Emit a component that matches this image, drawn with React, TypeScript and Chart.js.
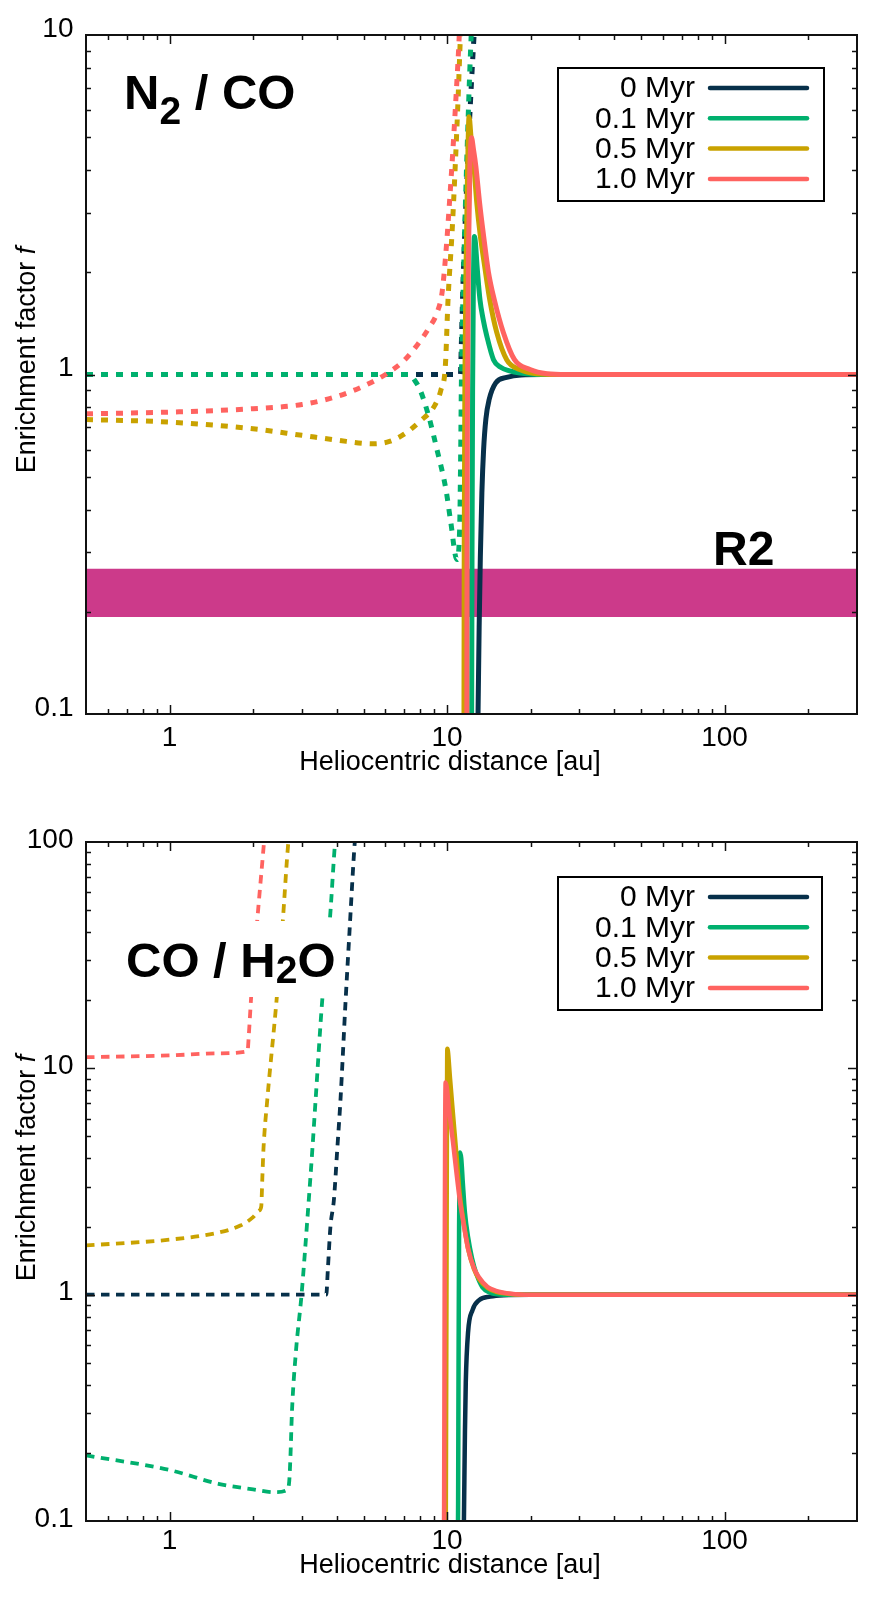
import React, { useEffect, useRef } from 'react';
import { Chart, registerables } from 'chart.js';

Chart.register(...registerables);

const FONT = '"Liberation Sans", Arial, Helvetica, sans-serif';

type Pt = [number, number];

// ---------- shared data ----------
const SERIES_LABELS = ['0 Myr', '0.1 Myr', '0.5 Myr', '1.0 Myr'];
const SERIES_COLORS = ['#07304a', '#00b06e', '#c9a200', '#ff6360'];
const BAND_COLOR = '#cc3a8a';
const X_TITLE = 'Heliocentric distance [au]';
const Y_TITLE = 'Enrichment factor ';
const Y_TITLE_ITALIC = 'f';

const X_TICKS = [0.5, 0.6, 0.7, 0.8, 0.9, 1, 2, 3, 4, 5, 6, 7, 8, 9, 10, 20, 30, 40, 50, 60, 70, 80, 90, 100, 200, 300];
const Y_TICKS_N2CO = [0.1, 0.2, 0.3, 0.4, 0.5, 0.6, 0.7, 0.8, 0.9, 1, 2, 3, 4, 5, 6, 7, 8, 9, 10];
const Y_TICKS_COH2O = [0.1, 0.2, 0.3, 0.4, 0.5, 0.6, 0.7, 0.8, 0.9, 1, 2, 3, 4, 5, 6, 7, 8, 9, 10, 20, 30, 40, 50, 60, 70, 80, 90, 100];

const R2_BAND = [0.193, 0.268];

// ---------- N2 / CO ----------
const N2CO_SOLID_0: Pt[] = [[12.85, 0.07], [12.93, 0.1], [13.05, 0.18], [13.18, 0.29], [13.35, 0.45], [13.54, 0.6], [13.8, 0.74], [14.18, 0.844], [14.98, 0.945], [16.4, 0.98], [18.5, 0.997], [22, 1], [300, 1]];
const N2CO_SOLID_01: Pt[] = [[12.25, 0.07], [12.3, 0.3], [12.36, 0.9], [12.43, 1.7], [12.54, 2.55], [12.65, 2.45], [12.83, 2.08], [13.14, 1.66], [13.5, 1.45], [13.9, 1.3], [14.7, 1.106], [15.6, 1.05], [16.8, 1.025], [18.3, 1.01], [21, 1.0], [300, 1]];
const N2CO_SOLID_05: Pt[] = [[11.5, 0.07], [11.53, 0.3], [11.6, 1.0], [11.7, 2.0], [11.85, 3.9], [12.0, 5.74], [12.2, 5.0], [12.5, 4.1], [12.8, 3.2], [13.14, 2.61], [13.7, 2.05], [14.25, 1.66], [15.1, 1.33], [16.4, 1.106], [18.3, 1.034], [21, 1.005], [25, 1.0], [300, 1]];
const N2CO_SOLID_10: Pt[] = [[11.78, 0.07], [11.8, 0.3], [11.86, 1.0], [11.95, 2.3], [12.08, 4.0], [12.25, 4.98], [12.45, 4.6], [12.7, 4.1], [13.1, 3.2], [13.5, 2.61], [14.1, 2.0], [14.8, 1.66], [15.95, 1.33], [17.5, 1.106], [19.9, 1.034], [22.9, 1.005], [27, 1.0], [300, 1]];

const N2CO_DASH_0: Pt[] = [[0.5, 1], [11.17, 1], [11.25, 1.2], [11.4, 1.8], [11.6, 2.7], [11.8, 3.8], [12.0, 5.2], [12.25, 7.3], [12.55, 10.4], [12.7, 12]];
const N2CO_DASH_01: Pt[] = [[0.5, 1], [7.3, 1], [7.65, 0.96], [8.0, 0.9], [8.6, 0.75], [9.2, 0.6], [9.9, 0.46], [10.3, 0.37], [10.85, 0.285], [11.1, 0.35], [11.2, 0.6], [11.27, 1.0], [11.45, 1.9], [11.65, 3.2], [11.85, 5.0], [12.05, 7.5], [12.25, 10.5], [12.35, 12]];
const N2CO_DASH_05: Pt[] = [[0.5, 0.737], [1, 0.724], [2, 0.692], [3, 0.662], [4, 0.641], [5.4, 0.625], [6.2, 0.635], [7, 0.667], [8, 0.729], [9, 0.807], [9.5, 0.9], [9.86, 1.06], [10.08, 1.66], [10.42, 2.61], [10.7, 4.1], [10.95, 6.4], [11.12, 9.0], [11.25, 11.5]];
const N2CO_DASH_10: Pt[] = [[0.5, 0.766], [1, 0.775], [2, 0.793], [3, 0.816], [4, 0.861], [5, 0.924], [6, 1.0], [7, 1.1], [7.8, 1.22], [8.6, 1.37], [9.2, 1.52], [9.6, 1.75], [9.95, 2.4], [10.2, 3.2], [10.5, 4.6], [10.75, 6.4], [11.0, 9.0], [11.15, 11.5]];

// ---------- CO / H2O ----------
const COH2O_SOLID_0: Pt[] = [[11.45, 0.07], [11.5, 0.1], [11.6, 0.25], [11.68, 0.41], [11.9, 0.68], [12.35, 0.855], [13.05, 0.946], [14.3, 0.98], [16, 0.995], [20, 1], [300, 1]];
const COH2O_SOLID_01: Pt[] = [[10.93, 0.07], [10.96, 0.12], [11.0, 0.5], [11.05, 2.0], [11.1, 3.8], [11.14, 4.25], [11.25, 4.0], [11.4, 3.1], [11.6, 2.3], [11.9, 1.8], [12.3, 1.45], [12.8, 1.22], [13.4, 1.08], [14.3, 1.02], [16, 1.0], [300, 1]];
const COH2O_SOLID_05: Pt[] = [[9.88, 0.07], [9.9, 0.12], [9.95, 1.0], [9.99, 6], [10.02, 12.2], [10.25, 9.0], [10.5, 6.3], [10.8, 4.2], [11.1, 2.8], [11.4, 2.2], [11.9, 1.6], [12.5, 1.3], [13.05, 1.17], [14, 1.07], [15, 1.03], [16.5, 1.01], [19, 1.0], [300, 1]];
const COH2O_SOLID_10: Pt[] = [[9.74, 0.07], [9.76, 0.12], [9.8, 1.0], [9.84, 5.0], [9.88, 8.65], [10.2, 6.3], [10.5, 4.75], [10.8, 3.5], [11.1, 2.65], [11.4, 2.15], [11.9, 1.6], [12.5, 1.31], [13.05, 1.19], [14, 1.08], [15, 1.04], [17, 1.01], [20, 1.0], [300, 1]];

const COH2O_DASH_0: Pt[] = [[0.5, 1], [3.67, 1], [3.72, 1.3], [3.8, 2.0], [3.91, 2.62], [4.02, 4.37], [4.13, 7.26], [4.31, 20], [4.45, 40], [4.65, 100], [4.7, 115]];
const COH2O_DASH_01: Pt[] = [[0.5, 0.195], [1, 0.168], [1.5, 0.146], [2, 0.138], [2.4, 0.134], [2.65, 0.137], [2.7, 0.15], [2.73, 0.2], [2.76, 0.3], [2.85, 0.55], [2.99, 1.0], [3.15, 2.3], [3.27, 4.37], [3.36, 7.26], [3.55, 20], [3.78, 45], [3.95, 100], [4.0, 115]];
const COH2O_DASH_05: Pt[] = [[0.5, 1.65], [1, 1.75], [1.5, 1.88], [1.8, 2.02], [2.0, 2.2], [2.1, 2.35], [2.14, 2.45], [2.16, 3.3], [2.18, 4.4], [2.25, 7.26], [2.43, 20], [2.55, 42], [2.68, 100], [2.72, 115]];
const COH2O_DASH_10: Pt[] = [[0.5, 11.2], [1, 11.4], [1.5, 11.65], [1.91, 11.9], [1.93, 14], [1.97, 21], [2.07, 45], [2.19, 100], [2.21, 115]];

// ---------- helpers ----------
function lineDs(label: string, pts: Pt[], color: string, width: number, dash: number[], order: number) {
  return {
    label,
    data: pts.map(([x, y]) => ({ x, y })),
    borderColor: color,
    backgroundColor: color,
    borderWidth: width,
    borderDash: dash,
    borderCapStyle: 'butt',
    borderJoinStyle: 'round',
    pointRadius: 0,
    pointHoverRadius: 0,
    fill: false,
    cubicInterpolationMode: 'monotone',
    order,
    clip: 0,
  };
}

function isMajor(v: number) {
  const l = Math.log10(v);
  return Math.abs(l - Math.round(l)) < 1e-9;
}

type TitlePart = { text: string; size: number; dy: number };

interface PanelCfg {
  id: string;
  canvasHeight: number;
  padTop: number;
  xAxisHeight: number;
  xLabelPad: number;
  yLabelOffset: number;
  yMin: number;
  yMax: number;
  yTicks: number[];
  titleParts: TitlePart[];
  titleX: number;
  titleY: number;
  titleBox?: [number, number, number, number];
  note?: { text: string; x: number; y: number };
  legend: { x: number; y: number; w: number; h: number };
  xTitle: { x: number; y: number };
  yTitle: { x: number; y: number };
  solids: Pt[][];
  dashes: Pt[][];
  solidWidth: number;
  dashWidth: number;
  dash: number[];
  band?: number[];
}

function makeDecor(cfg: PanelCfg) {
  return {
    id: 'decor_' + cfg.id,
    afterDatasetsDraw(chart: any) {
      const { ctx, chartArea: a } = chart;
      const xs = chart.scales.x;
      const ys = chart.scales.y;
      ctx.save();
      ctx.setLineDash([]);
      // opaque box behind the title
      if (cfg.titleBox) {
        ctx.fillStyle = '#ffffff';
        const [bx, by, bw, bh] = cfg.titleBox;
        ctx.fillRect(bx, by, bw, bh);
      }
      // title
      ctx.fillStyle = '#000';
      ctx.textAlign = 'left';
      ctx.textBaseline = 'alphabetic';
      let tx = cfg.titleX;
      for (const p of cfg.titleParts) {
        ctx.font = `bold ${p.size}px ${FONT}`;
        ctx.fillText(p.text, tx, cfg.titleY + p.dy);
        tx += ctx.measureText(p.text).width;
      }
      if (cfg.note) {
        ctx.font = `bold 48px ${FONT}`;
        ctx.fillText(cfg.note.text, cfg.note.x, cfg.note.y);
      }
      // legend
      const L = cfg.legend;
      ctx.fillStyle = '#fff';
      ctx.fillRect(L.x, L.y, L.w, L.h);
      ctx.strokeStyle = '#000';
      ctx.lineWidth = 2;
      ctx.strokeRect(L.x, L.y, L.w, L.h);
      ctx.font = `30px ${FONT}`;
      ctx.textAlign = 'right';
      ctx.textBaseline = 'middle';
      SERIES_LABELS.forEach((lab, i) => {
        const ry = L.y + 20 + i * 30.3;
        ctx.fillStyle = '#000';
        ctx.fillText(lab, L.x + 137, ry + 1);
        ctx.strokeStyle = SERIES_COLORS[i];
        ctx.lineWidth = 4.5;
        ctx.lineCap = 'round';
        ctx.beginPath();
        ctx.moveTo(L.x + 152, ry);
        ctx.lineTo(L.x + 249, ry);
        ctx.stroke();
      });
      ctx.lineCap = 'butt';
      // frame
      ctx.strokeStyle = '#111';
      ctx.lineWidth = 2;
      ctx.strokeRect(a.left, a.top, a.right - a.left, a.bottom - a.top);
      // inward ticks on all sides
      ctx.lineWidth = 1.5;
      const seg = (x1: number, y1: number, x2: number, y2: number) => {
        ctx.beginPath();
        ctx.moveTo(x1, y1);
        ctx.lineTo(x2, y2);
        ctx.stroke();
      };
      for (const t of xs.ticks) {
        const v = t.value;
        if (v <= xs.min * 1.0001 || v >= xs.max * 0.9999) continue;
        const px = Math.round(xs.getPixelForValue(v)) + 0.5;
        const len = isMajor(v) ? 9 : 5;
        seg(px, a.bottom, px, a.bottom - len);
        seg(px, a.top, px, a.top + len);
      }
      for (const t of ys.ticks) {
        const v = t.value;
        if (v <= ys.min * 1.0001 || v >= ys.max * 0.9999) continue;
        const py = Math.round(ys.getPixelForValue(v)) + 0.5;
        const len = isMajor(v) ? 9 : 5;
        seg(a.left, py, a.left + len, py);
        seg(a.right, py, a.right - len, py);
      }
      // axis titles
      ctx.fillStyle = '#000';
      ctx.font = `27px ${FONT}`;
      ctx.textAlign = 'center';
      ctx.textBaseline = 'alphabetic';
      ctx.fillText(X_TITLE, cfg.xTitle.x, cfg.xTitle.y);
      ctx.translate(cfg.yTitle.x, cfg.yTitle.y);
      ctx.rotate(-Math.PI / 2);
      ctx.font = `27px ${FONT}`;
      const w1 = ctx.measureText(Y_TITLE).width;
      ctx.font = `italic 27px ${FONT}`;
      const w2 = ctx.measureText(Y_TITLE_ITALIC).width;
      const start = -(w1 + w2) / 2;
      ctx.textAlign = 'left';
      ctx.font = `27px ${FONT}`;
      ctx.fillText(Y_TITLE, start, 0);
      ctx.font = `italic 27px ${FONT}`;
      ctx.fillText(Y_TITLE_ITALIC, start + w1, 0);
      ctx.restore();
    },
  };
}

function buildConfig(cfg: PanelCfg): any {
  const datasets: any[] = [];
  cfg.solids.forEach((pts, i) => {
    datasets.push(lineDs(SERIES_LABELS[i], pts, SERIES_COLORS[i], cfg.solidWidth, [], 4 - i));
  });
  const dashOrder = [8, 6, 7, 5];
  cfg.dashes.forEach((pts, i) => {
    datasets.push(lineDs(SERIES_LABELS[i] + ' (inner)', pts, SERIES_COLORS[i], cfg.dashWidth, cfg.dash, dashOrder[i]));
  });
  if (cfg.band) {
    datasets.push({
      label: 'R2',
      data: [{ x: X_TICKS[0], y: cfg.band[1] }, { x: X_TICKS[X_TICKS.length - 1], y: cfg.band[1] }],
      borderColor: 'rgba(0,0,0,0)',
      borderWidth: 0,
      backgroundColor: BAND_COLOR,
      pointRadius: 0,
      fill: { value: cfg.band[0] },
      order: 50,
      clip: 0,
    });
  }
  const tickFont = { family: FONT, size: 28 };
  return {
    type: 'line',
    data: { datasets },
    options: {
      animation: false,
      responsive: false,
      maintainAspectRatio: false,
      devicePixelRatio: 1,
      events: [],
      layout: { padding: { top: cfg.padTop, right: 16, left: 0, bottom: 0 } },
      plugins: { legend: { display: false }, tooltip: { enabled: false }, title: { display: false } },
      scales: {
        x: {
          type: 'logarithmic',
          min: X_TICKS[0],
          max: X_TICKS[X_TICKS.length - 1],
          afterBuildTicks: (s: any) => {
            s.ticks = X_TICKS.map((v) => ({ value: v }));
          },
          afterFit: (s: any) => {
            s.height = cfg.xAxisHeight;
          },
          grid: { display: false, drawTicks: false },
          border: { display: false },
          ticks: {
            autoSkip: false,
            maxRotation: 0,
            minRotation: 0,
            padding: cfg.xLabelPad,
            color: '#000',
            font: tickFont,
            callback: (v: any) => (isMajor(Number(v)) ? String(Number(v)) : ''),
          },
        },
        y: {
          type: 'logarithmic',
          min: cfg.yMin,
          max: cfg.yMax,
          afterBuildTicks: (s: any) => {
            s.ticks = cfg.yTicks.map((v) => ({ value: v }));
          },
          afterFit: (s: any) => {
            s.width = 86;
          },
          grid: { display: false, drawTicks: false },
          border: { display: false },
          ticks: {
            autoSkip: false,
            padding: 12.5,
            labelOffset: cfg.yLabelOffset,
            color: '#000',
            font: tickFont,
            callback: (v: any) => (isMajor(Number(v)) ? String(Number(v)) : ''),
          },
        },
      },
    },
    plugins: [makeDecor(cfg)],
  };
}

const TOP_PANEL: PanelCfg = {
  id: 'n2co',
  canvasHeight: 800,
  padTop: 35,
  xAxisHeight: 86,
  xLabelPad: 7,
  yLabelOffset: -6,
  yMin: Y_TICKS_N2CO[0],
  yMax: Y_TICKS_N2CO[Y_TICKS_N2CO.length - 1],
  yTicks: Y_TICKS_N2CO,
  titleParts: [
    { text: 'N', size: 49, dy: 0 },
    { text: '2', size: 39, dy: 15 },
    { text: ' / CO', size: 49, dy: 0 },
  ],
  titleX: 124,
  titleY: 109,
  note: { text: 'R2', x: 713, y: 565 },
  legend: { x: 558, y: 68, w: 266, h: 133 },
  xTitle: { x: 450, y: 770 },
  yTitle: { x: 35, y: 360 },
  solids: [N2CO_SOLID_0, N2CO_SOLID_01, N2CO_SOLID_05, N2CO_SOLID_10],
  dashes: [N2CO_DASH_0, N2CO_DASH_01, N2CO_DASH_05, N2CO_DASH_10],
  solidWidth: 5,
  dashWidth: 5,
  dash: [7, 8],
  band: R2_BAND,
};

const BOTTOM_PANEL: PanelCfg = {
  id: 'coh2o',
  canvasHeight: 803,
  padTop: 42,
  xAxisHeight: 82,
  xLabelPad: 3,
  yLabelOffset: -2,
  yMin: Y_TICKS_COH2O[0],
  yMax: Y_TICKS_COH2O[Y_TICKS_COH2O.length - 1],
  yTicks: Y_TICKS_COH2O,
  titleParts: [
    { text: 'CO / H', size: 49, dy: 0 },
    { text: '2', size: 39, dy: 6 },
    { text: 'O', size: 49, dy: 0 },
  ],
  titleX: 126,
  titleY: 177,
  titleBox: [120, 121, 222, 76],
  legend: { x: 558, y: 77, w: 264, h: 133 },
  xTitle: { x: 450, y: 773 },
  yTitle: { x: 35, y: 368 },
  solids: [COH2O_SOLID_0, COH2O_SOLID_01, COH2O_SOLID_05, COH2O_SOLID_10],
  dashes: [COH2O_DASH_0, COH2O_DASH_01, COH2O_DASH_05, COH2O_DASH_10],
  solidWidth: 4.5,
  dashWidth: 3.8,
  dash: [8.5, 6.5],
};

function Panel({ cfg, top }: { cfg: PanelCfg; top: number }) {
  const ref = useRef<HTMLCanvasElement | null>(null);
  useEffect(() => {
    if (!ref.current) return;
    const chart = new Chart(ref.current, buildConfig(cfg));
    return () => chart.destroy();
  }, [cfg]);
  return (
    <canvas
      ref={ref}
      width={873}
      height={cfg.canvasHeight}
      style={{ position: 'absolute', left: 0, top, width: 873, height: cfg.canvasHeight, display: 'block' }}
    />
  );
}

export default function App() {
  return (
    <div style={{ position: 'absolute', left: 0, top: 0, width: 873, height: 1603, background: '#fff', overflow: 'hidden' }}>
      <Panel cfg={TOP_PANEL} top={0} />
      <Panel cfg={BOTTOM_PANEL} top={800} />
    </div>
  );
}
